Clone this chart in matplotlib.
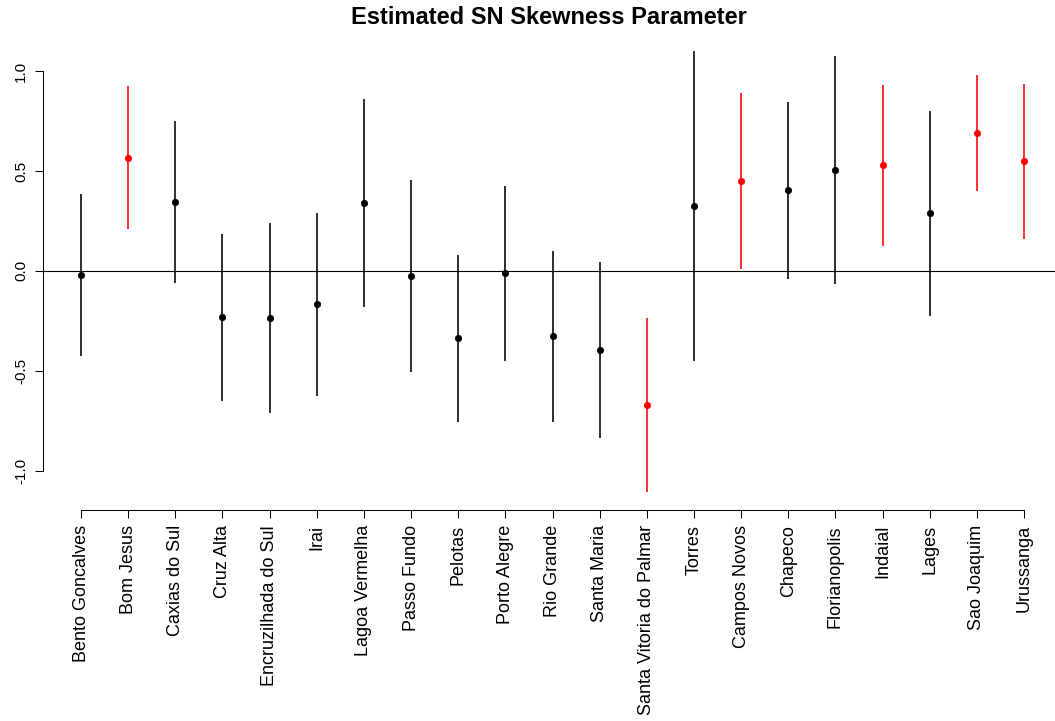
import matplotlib
matplotlib.use("Agg")
import matplotlib.pyplot as plt
import numpy as np

plt.rcParams['font.family'] = ['Liberation Sans', 'DejaVu Sans']

stations = ["Bento Goncalves", "Bom Jesus", "Caxias do Sul", "Cruz Alta",
            "Encruzilhada do Sul", "Irai", "Lagoa Vermelha", "Passo Fundo",
            "Pelotas", "Porto Alegre", "Rio Grande", "Santa Maria",
            "Santa Vitoria do Palmar", "Torres", "Campos Novos", "Chapeco",
            "Florianopolis", "Indaial", "Lages", "Sao Joaquim", "Urussanga"]
estimate = [-0.022, 0.565, 0.343, -0.232, -0.237, -0.168, 0.340, -0.027,
            -0.338, -0.013, -0.328, -0.397, -0.673, 0.325, 0.448, 0.403,
            0.503, 0.528, 0.288, 0.692, 0.548]
lower = [-0.428, 0.208, -0.062, -0.650, -0.710, -0.628, -0.183, -0.507,
         -0.757, -0.450, -0.757, -0.837, -1.108, -0.453, 0.008, -0.042,
         -0.068, 0.127, -0.227, 0.402, 0.162]
upper = [0.385, 0.923, 0.748, 0.187, 0.238, 0.292, 0.862, 0.453,
         0.080, 0.425, 0.100, 0.045, -0.237, 1.102, 0.888, 0.845,
         1.075, 0.930, 0.802, 0.980, 0.935]
significant = [False, True, False, False, False, False, False, False,
               False, False, False, False, True, False, True, False,
               False, True, False, True, True]
yticks = [-1.0, -0.5, 0.0, 0.5, 1.0]

W, H = 1055, 721
fig = plt.figure(figsize=(W / 100, H / 100), dpi=100)
ax = fig.add_axes([43 / W, (H - 510) / H, (W - 43) / W, (510 - 33) / H])

x = np.arange(1, len(stations) + 1)
for xi, e, lo, hi, sig in zip(x, estimate, lower, upper, significant):
    c = '#FF0000' if sig else 'black'
    ax.plot([xi, xi], [lo, hi], color=c, lw=1.15, solid_capstyle='butt')
    ax.plot([xi], [e], 'o', color=c, ms=4.6, mec=c, mew=0.5)

ax.axhline(0, color='black', lw=0.8)

ax.set_xlim(1 - 38 / 47.15, 21 + 31 / 47.15)
ax.set_ylim(-1.196, 1.19)

for s in ['top', 'right']:
    ax.spines[s].set_visible(False)
ax.spines['left'].set_bounds(-1.0, 1.0)
ax.spines['bottom'].set_bounds(1, len(stations))
ax.spines['left'].set_linewidth(0.75)
ax.spines['bottom'].set_linewidth(0.75)

ax.set_yticks(yticks)
ax.set_yticklabels([f"{v:.1f}".replace('\u2212', '-') for v in yticks],
                   rotation=90, va='center', fontsize=11)
ax.set_xticks(x)
ax.set_xticklabels(stations, rotation=90, fontsize=13)
ax.tick_params(axis='both', length=5.8, width=0.75, pad=5)

fig.text((43 + W) / 2 / W, 1 - 18 / H, "Estimated SN Skewness Parameter",
         ha='center', va='center', fontsize=17, fontweight='bold')

fig.savefig("out.png", dpi=100)
